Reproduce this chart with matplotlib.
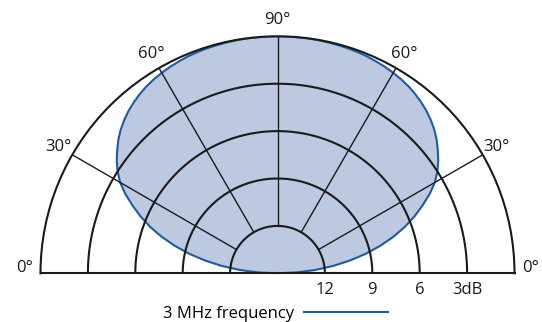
import numpy as np
import matplotlib
matplotlib.use("Agg")
import matplotlib.pyplot as plt

plt.rcParams["font.family"] = ["Open Sans", "DejaVu Sans"]

# beam pattern, level in dB every 2.5 degrees from 0 to 180
angles_deg = np.arange(0, 180.1, 2.5)
level_db = [
    -15.00, -13.80, -12.62, -11.46, -10.34, -9.27, -8.26, -7.31, -6.43, -5.63,
    -4.89, -4.15, -3.50, -3.00, -2.58, -2.21, -1.85, -1.54, -1.28, -1.05,
    -0.86, -0.69, -0.55, -0.44, -0.35, -0.27, -0.21, -0.15, -0.11, -0.08,
    -0.06, -0.04, -0.02, -0.01, -0.01, 0.00, 0.00,
    0.00, -0.01, -0.01, -0.02, -0.04, -0.06, -0.08, -0.11, -0.15, -0.21,
    -0.27, -0.35, -0.44, -0.55, -0.69, -0.86, -1.05, -1.28, -1.54, -1.85,
    -2.21, -2.58, -3.00, -3.50, -4.15, -4.89, -5.63, -6.43, -7.31, -8.26,
    -9.27, -10.34, -11.46, -12.62, -13.80, -15.00,
]

ring_db = [-12, -9, -6, -3]
ring_labels = ["12", "9", "6", "3dB"]
spoke_deg = [30, 60, 90, 120, 150]
tick_deg = [0, 30, 60, 90, 120, 150, 180]
tick_labels = ["0°", "30°", "60°", "90°", "60°", "30°", "0°"]

line_color = "#1f5c9e"
fill_color = "#bdc8e1"

fig = plt.figure(figsize=(5.42, 3.22), dpi=100)
# the half-disk sits in the upper part of a square polar box
ax = fig.add_axes([40.5 / 542, -69.8 / 322, 474 / 542, 474 / 322], projection="polar")
ax.set_thetamin(0)
ax.set_thetamax(180)
ax.set_ylim(-15, 0)
ax.grid(False)
ax.set_xticks([])
ax.set_yticks([])
ax.patch.set_alpha(0)

theta = np.radians(angles_deg)
ax.fill(theta, level_db, color=fill_color, zorder=1, lw=0)
pattern, = ax.plot(theta, level_db, color=line_color, lw=1.5, zorder=2,
                   label="3 MHz frequency")

# rings and spokes
arc = np.linspace(0, np.pi, 300)
for r in ring_db:
    ax.plot(arc, np.full_like(arc, r), color="#1a1a1a", lw=1.5, zorder=3)
for a in spoke_deg:
    ax.plot([np.radians(a)] * 2, [ring_db[0], 0], color="#1a1a1a", lw=1.0, zorder=3)

for name in ["polar", "start", "end"]:
    ax.spines[name].set_color("#1a1a1a")
    ax.spines[name].set_linewidth(1.5)
    ax.spines[name].set_zorder(4)
ax.spines["inner"].set_visible(False)

# angle labels
pad = 11.5
for a, lbl in zip(tick_deg, tick_labels):
    t = np.radians(a)
    lift = 4 if a in (0, 180) else 0
    ax.annotate(lbl, xy=(t, 0), xytext=(pad * np.cos(t), pad * np.sin(t) + lift),
                textcoords="offset points", ha="center", va="center",
                fontsize=12, color="#1a1a1a", annotation_clip=False)

# dB labels
for r, lbl in zip(ring_db, ring_labels):
    ax.annotate(lbl, xy=(0, r), xytext=(0, -12), textcoords="offset points",
                ha="center", va="center", fontsize=12, color="#1a1a1a",
                annotation_clip=False)

fig.legend(handles=[pattern], loc="center", bbox_to_anchor=(0.508, 0.025),
           frameon=False, markerfirst=False, handlelength=5, handletextpad=0.6,
           fontsize=12, borderpad=0)

fig.savefig("out.png", dpi=100)
